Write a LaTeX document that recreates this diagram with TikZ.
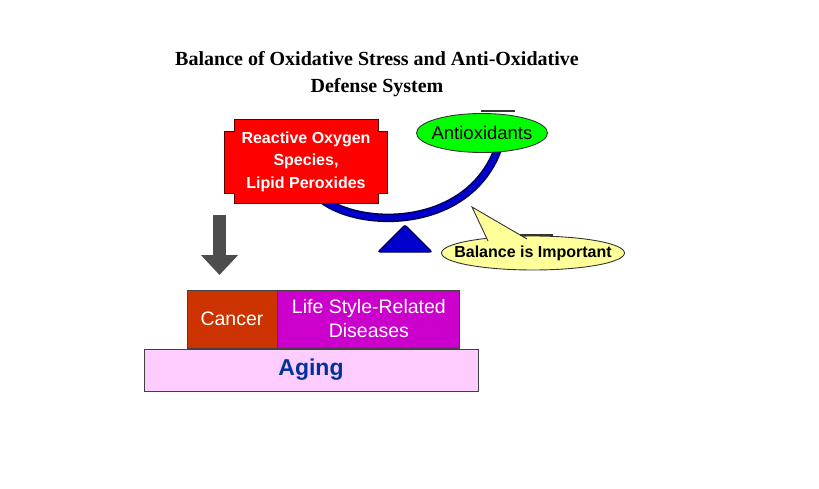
\documentclass[tikz,border=0pt]{standalone}
\usepackage{fontspec}
\setmainfont{Liberation Serif}
\setsansfont{Liberation Sans}
\usetikzlibrary{arrows.meta,positioning,shapes.geometric,calc,backgrounds}
\definecolor{rosred}{HTML}{FF0000}
\definecolor{rosdark}{HTML}{5A0000}
\definecolor{antigreen}{HTML}{00FF00}
\definecolor{beamblue}{HTML}{0000CC}
\definecolor{beamdark}{HTML}{000055}
\definecolor{bubbleyellow}{HTML}{FFFF99}
\definecolor{arrowgray}{HTML}{4D4D4D}
\definecolor{cancerred}{HTML}{CC3300}
\definecolor{lifemag}{HTML}{CC00CC}
\definecolor{agingpink}{HTML}{FFCCFF}
\definecolor{agingblue}{HTML}{003399}
\tikzset{
      titletext/.style={
        align=center,
        font=\bfseries\fontsize{20}{27}\selectfont
      },
      rosbox/.style={
        minimum width=162,
        minimum height=83,
        inner sep=0pt,
        align=center,
        text=white,
        font=\sffamily\bfseries\fontsize{16}{22.5}\selectfont
      },
      antibox/.style={
        ellipse,
        draw=black!80,
        line width=0.9pt,
        fill=antigreen,
        minimum width=131,
        minimum height=39,
        inner xsep=-5pt,
        inner ysep=0pt,
        font=\sffamily\fontsize{18.5}{22}\selectfont
      },
      bubblebox/.style={
        ellipse,
        draw=black!80,
        line width=0.9pt,
        fill=bubbleyellow,
        minimum width=183,
        minimum height=34,
        inner xsep=-14pt,
        inner ysep=0pt,
        font=\sffamily\bfseries\fontsize{16}{19}\selectfont
      },
      layerbox/.style={
        draw=black!75,
        line width=0.9pt,
        inner sep=0pt,
        align=center,
        text=white,
        font=\sffamily\fontsize{19.5}{24}\selectfont
      },
      blockarrow/.style={
        draw=arrowgray,
        line width=13pt,
        -{Triangle[width=36pt,length=20pt]}
      }
    }

\begin{document}
\begin{tikzpicture}[x=1pt,y=-1pt]
    \useasboundingbox (0,0) rectangle (819,489);
    \node[titletext] (title) at (377,74) {Balance of Oxidative Stress and Anti-Oxidative\\Defense System};
    % balance
    \node[rosbox] (ros) at (306,161.5) {Reactive Oxygen\\Species,\\Lipid Peroxides};
    \node[antibox] (anti) at (482,133) {Antioxidants};
    \coordinate (beamleft) at (318,196);
    \coordinate (beamright) at (499,146);
    \begin{scope}[on background layer]
    \draw[beamdark, line width=8.5pt] (beamleft) .. controls (355,230) and (470,232) .. (beamright);
    \draw[beamblue, line width=5.5pt] (beamleft) .. controls (355,230) and (470,232) .. (beamright);
    \filldraw[fill=rosred, draw=rosdark, line width=1pt]
      ($(ros.north west)+(10,0)$) -- ($(ros.north east)+(-9,0)$) -- ++(0,12) -- ++(9,0)
      -- ($(ros.south east)+(0,-10)$) -- ++(-9,0) -- ++(0,10)
      -- ($(ros.south west)+(10,0)$) -- ++(0,-10) -- ++(-10,0)
      -- ($(ros.north west)+(0,12)$) -- ++(10,0) -- cycle;
    \end{scope}
    \draw[black!80, line width=2pt] (481,111.5) -- (515,111.5);
    \filldraw[fill=beamblue, draw=beamdark, line width=1.2pt, rounded corners=2pt] (378,252) -- (405,225) -- (432,252) -- cycle;
    % speech bubble
    \node[bubblebox] (bubble) at (533,253) {Balance is Important};
    \coordinate (tailL) at (488,241);
    \coordinate (tailtip) at (472,207);
    \coordinate (tailR) at (527,239);
    \fill[bubbleyellow] (tailL) -- (tailtip) -- (tailR) -- cycle;
    \draw[black!80, line width=0.9pt] (tailL) -- (tailtip) -- (tailR);
    \draw[black!80, line width=2pt] (520,235) -- (553,235);
    % down arrow
    \coordinate (arrtop) at (219.5,215);
    \coordinate (arrtip) at (219.5,275);
    \draw[blockarrow] (arrtop) -- (arrtip);
    % layers
    \node[layerbox, fill=cancerred, minimum width=90, minimum height=58] (cancer) at (232,319) {Cancer};
    \node[layerbox, fill=lifemag, minimum width=182, minimum height=58, right=0pt of cancer] (life) {Life Style-Related\\Diseases};
    \node[layerbox, fill=agingpink, text=agingblue, minimum width=334, minimum height=42, font=\sffamily\bfseries\fontsize{23}{26}\selectfont] (aging) at (311,370) {Aging};
\end{tikzpicture}
\end{document}
